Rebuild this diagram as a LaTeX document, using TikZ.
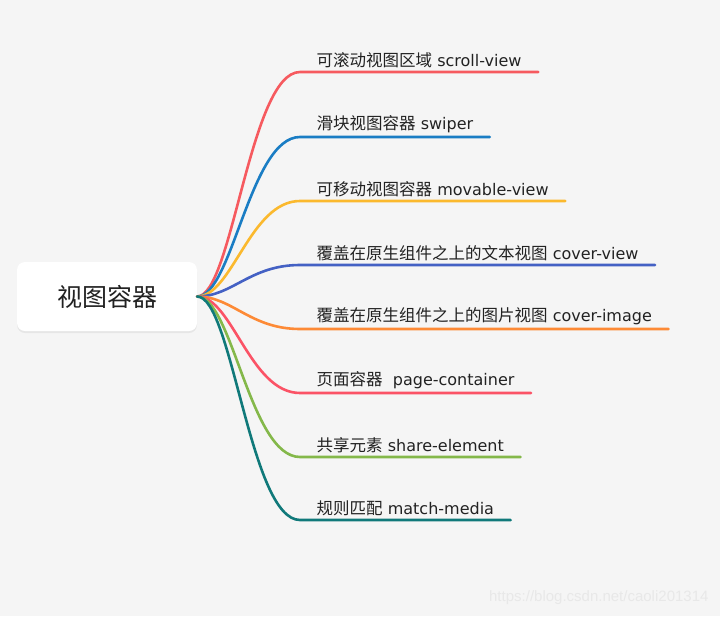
\documentclass[tikz,border=0pt]{standalone}
\usepackage{fontspec}
\setmainfont{DejaVu Sans}
\newfontfamily\cjk{Noto Sans CJK SC}
\newfontfamily\wmfont{Liberation Sans}
\usepackage{xcolor}
\definecolor{cBg}{HTML}{F5F5F5}
\definecolor{cText}{HTML}{222222}
\definecolor{cRed}{HTML}{F65A5F}
\definecolor{cBlue}{HTML}{1A7DC4}
\definecolor{cYellow}{HTML}{FBB92E}
\definecolor{cIndigo}{HTML}{4461C4}
\definecolor{cOrange}{HTML}{FD8A36}
\definecolor{cPink}{HTML}{FB5366}
\definecolor{cGreen}{HTML}{84B84A}
\definecolor{cTeal}{HTML}{10797A}
\usetikzlibrary{positioning,shadows}
\tikzset{
  node-root/.style={fill=white,rounded corners=8pt,minimum width=180pt,
    minimum height=69pt,text=cText,font=\cjk\fontsize{25}{30}\selectfont,
    drop shadow={opacity=0.12,shadow xshift=0pt,shadow yshift=-2pt}},
  node-leaf/.style={anchor=south west,inner xsep=16.5pt,inner ysep=4pt,
    text=cText,font=\fontsize{16}{20}\selectfont},
  % 每条分支：从中心节点出发的曲线，再沿文字下方延伸
  branch/.style={line width=2.6pt,line cap=round},
}

\begin{document}
\begin{tikzpicture}[x=1pt,y=-1pt]
  \fill[cBg] (0,0) rectangle (720,616);
  \useasboundingbox (0,0) rectangle (720,616);

  \node[node-root] (root) at (107,296.5) {视图容器};

  \node[node-leaf] (scroll)  at (300,72)  {{\cjk\fontsize{16.5}{20}\selectfont 可滚动视图区域} scroll-view};
  \node[node-leaf] (swiper)  at (300,137) {{\cjk\fontsize{16.5}{20}\selectfont 滑块视图容器} swiper};
  \node[node-leaf] (movable) at (300,201) {{\cjk\fontsize{16.5}{20}\selectfont 可移动视图容器} movable-view};
  \node[node-leaf] (cview)   at (300,265) {{\cjk\fontsize{16.5}{20}\selectfont 覆盖在原生组件之上的文本视图} cover-view};
  \node[node-leaf] (cimage)  at (300,329) {{\cjk\fontsize{16.5}{20}\selectfont 覆盖在原生组件之上的图片视图} cover-image};
  \node[node-leaf] (page)    at (300,393) {{\cjk\fontsize{16.5}{20}\selectfont 页面容器}~ page-container};
  \node[node-leaf] (share)   at (300,457) {{\cjk\fontsize{16.5}{20}\selectfont 共享元素} share-element};
  \node[node-leaf] (media)   at (300,520) {{\cjk\fontsize{16.5}{20}\selectfont 规则匹配} match-media};

  \draw[branch,cRed]    (root.east) .. controls +(35,0) and +(-50,0) .. (scroll.south west) -- (scroll.south east);
  \draw[branch,cBlue]   (root.east) .. controls +(35,0) and +(-50,0) .. (swiper.south west) -- (swiper.south east);
  \draw[branch,cYellow] (root.east) .. controls +(35,0) and +(-50,0) .. (movable.south west) -- (movable.south east);
  \draw[branch,cIndigo] (root.east) .. controls +(35,0) and +(-50,0) .. (cview.south west) -- (cview.south east);
  \draw[branch,cOrange] (root.east) .. controls +(35,0) and +(-50,0) .. (cimage.south west) -- (cimage.south east);
  \draw[branch,cPink]   (root.east) .. controls +(35,0) and +(-50,0) .. (page.south west) -- (page.south east);
  \draw[branch,cGreen]  (root.east) .. controls +(35,0) and +(-50,0) .. (share.south west) -- (share.south east);
  \draw[branch,cTeal]   (root.east) .. controls +(35,0) and +(-50,0) .. (media.south west) -- (media.south east);

  \node[anchor=east,text=black!9,font=\wmfont\fontsize{15}{18}\selectfont] (mark) at (712,598) {https://blog.csdn.net/caoli201314};
\end{tikzpicture}
\end{document}
